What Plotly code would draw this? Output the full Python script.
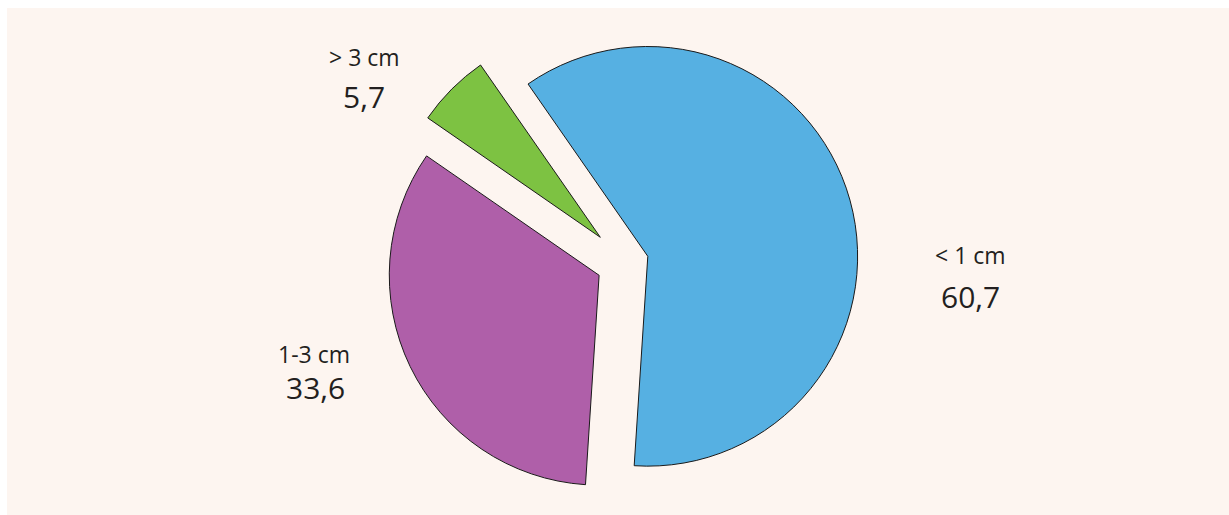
import plotly.graph_objects as go

# Tumour size distribution (%)
categories = ["< 1 cm", "1-3 cm", "> 3 cm"]
values = [60.7, 33.6, 5.7]
value_labels = ["60,7", "33,6", "5,7"]
colors = ["#56b0e2", "#af5fa9", "#7dc242"]
pulls = [0.11, 0.14, 0.17]

W, H = 1229, 515
M_T, M_B = 17, 7
plot_h = H - M_T - M_B

fig = go.Figure(
    go.Pie(
        labels=categories,
        values=values,
        sort=False,
        direction="clockwise",
        rotation=-34.8,
        pull=pulls,
        textinfo="none",
        hoverinfo="label+value",
        marker=dict(colors=colors, line=dict(color="#1a1a1a", width=1)),
        domain=dict(x=[0.018, 1.0], y=[0, 1]),
        showlegend=False,
    )
)

CREAM = "#fdf5f0"
TEXT = "#231f20"

# label positions in pixels (centre of each text line)
label_pos = {
    "< 1 cm": (970, 255, 970, 296),
    "1-3 cm": (314, 354, 315, 387),
    "> 3 cm": (365, 57, 364, 96),
}


def px_to_paper(x, y):
    return x / W, 1 - (y - M_T) / plot_h


annotations = []
for cat, val in zip(categories, value_labels):
    x1, y1, x2, y2 = label_pos[cat]
    ax, ay = px_to_paper(x1, y1)
    annotations.append(dict(x=ax, y=ay, xref="paper", yref="paper", text=cat,
                            showarrow=False, xanchor="center", yanchor="middle",
                            font=dict(size=23, color=TEXT, family="Open Sans")))
    bx, by = px_to_paper(x2, y2)
    annotations.append(dict(x=bx, y=by, xref="paper", yref="paper", text=val,
                            showarrow=False, xanchor="center", yanchor="middle",
                            font=dict(size=30, color=TEXT, family="Open Sans")))

# cream panel with a thin white border at top and left
x0, y0 = px_to_paper(7, 8)
x1, y1 = px_to_paper(W, H)
shapes = [dict(type="rect", xref="paper", yref="paper", x0=x0, y0=y1, x1=x1, y1=y0,
               fillcolor=CREAM, line=dict(width=0), layer="below")]

fig.update_layout(
    width=W,
    height=H,
    margin=dict(l=0, r=0, t=M_T, b=M_B),
    paper_bgcolor="white",
    plot_bgcolor=CREAM,
    annotations=annotations,
    shapes=shapes,
)

fig.write_html("out.html")
